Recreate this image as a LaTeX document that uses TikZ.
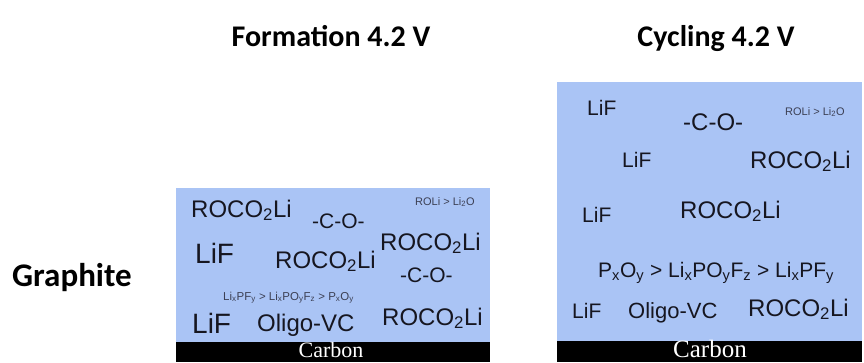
\documentclass[tikz,border=0pt]{standalone}
\usepackage{fontspec}
\setmainfont{Liberation Sans}
\newfontfamily\titlefont{Carlito}
\newfontfamily\carbonfont{Liberation Serif}
\definecolor{sei}{RGB}{170,196,245}
\definecolor{ink}{RGB}{22,22,32}
\definecolor{faint}{RGB}{60,64,84}
\begin{document}
\begin{tikzpicture}[x=1pt,y=-1pt,
  lbl/.style={anchor=base west, inner sep=0pt, text=ink, font=\fontsize{#1}{#1}\selectfont},
  tiny/.style={anchor=base west, inner sep=0pt, text=faint, font=\fontsize{#1}{#1}\selectfont},
  heading/.style={anchor=base, inner sep=0pt, font=\titlefont\bfseries\fontsize{#1}{#1}\selectfont},
  layer/.style={fill=sei, draw=none},
  substrate/.style={fill=black, draw=none},
  carbonlbl/.style={anchor=base, inner sep=0pt, text=white, font=\carbonfont\fontsize{#1}{#1}\selectfont}]
\useasboundingbox (0,0) rectangle (864,362);
\fill[white] (0,0) rectangle (864,362);
% headings
\node[heading=30] (tform) at (331,46) {Formation 4.2 V};
\node[heading=30] (tcyc) at (716,46) {Cycling 4.2 V};
\node[heading=33, anchor=base west] (tgra) at (12,286) {Graphite};
% left box
\fill[layer] (176,188) rectangle (490,343);
\fill[substrate] (176,342) rectangle (490,362);
\node[carbonlbl=22] (cl) at (331,357.5) {Carbon};
\node[lbl=24] (a1) at (191,217) {ROCO\textsubscript{2}Li};
\node[lbl=21] (a2) at (312,228) {-C-O-};
\node[tiny=11] (a3) at (415,205) {ROLi > Li\textsubscript{2}O};
\node[lbl=28] (a4) at (195,263) {LiF};
\node[lbl=24] (a5) at (275,268) {ROCO\textsubscript{2}Li};
\node[lbl=24] (a6) at (380,250) {ROCO\textsubscript{2}Li};
\node[lbl=21] (a7) at (400,282) {-C-O-};
\node[tiny=11.5] (a8) at (223,300) {Li\textsubscript{x}PF\textsubscript{y} > Li\textsubscript{x}PO\textsubscript{y}F\textsubscript{z} > P\textsubscript{x}O\textsubscript{y}};
\node[lbl=28] (a9) at (192,333) {LiF};
\node[lbl=24] (a10) at (257,331) {Oligo-VC};
\node[lbl=24] (a11) at (382,325) {ROCO\textsubscript{2}Li};
% right box
\fill[layer] (557,82) rectangle (862,342);
\fill[substrate] (557,341) rectangle (862,362);
\node[carbonlbl=25] (cr) at (710,357.5) {Carbon};
\node[lbl=21] (b1) at (587,115) {LiF};
\node[lbl=24] (b2) at (683,130) {-C-O-};
\node[tiny=11] (b3) at (785,115) {ROLi > Li\textsubscript{2}O};
\node[lbl=21] (b4) at (622,167) {LiF};
\node[lbl=24] (b5) at (750,168) {ROCO\textsubscript{2}Li};
\node[lbl=21] (b6) at (582,222) {LiF};
\node[lbl=24] (b7) at (680,218) {ROCO\textsubscript{2}Li};
\node[lbl=21] (b8) at (598,277) {P\textsubscript{x}O\textsubscript{y} > Li\textsubscript{x}PO\textsubscript{y}F\textsubscript{z} > Li\textsubscript{x}PF\textsubscript{y}};
\node[lbl=21] (b9) at (572,318) {LiF};
\node[lbl=22] (b10) at (628,318) {Oligo-VC};
\node[lbl=24] (b11) at (748,316) {ROCO\textsubscript{2}Li};
\end{tikzpicture}
\end{document}
